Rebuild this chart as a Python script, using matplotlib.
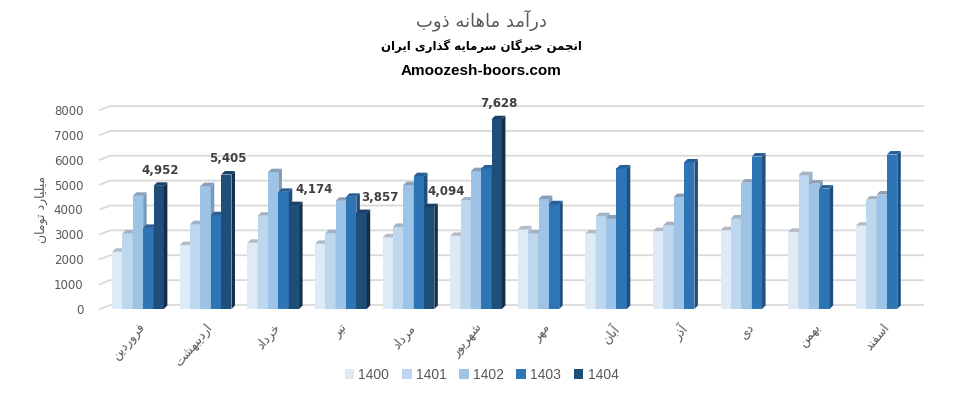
import numpy as np
import matplotlib
matplotlib.use('Agg')
import matplotlib.pyplot as plt
from matplotlib.patches import Polygon, Patch

# monthly revenue (billion toman)
months = ['فروردین', 'اردیبهشت', 'خرداد', 'تیر', 'مرداد', 'شهریور',
          'مهر', 'آبان', 'آذر', 'دی', 'بهمن', 'اسفند']
years = ['1400', '1401', '1402', '1403', '1404']
y1400 = [2300, 2570, 2660, 2620, 2880, 2940, 3200, 3040, 3130, 3170, 3100, 3350]
y1401 = [3040, 3410, 3750, 3050, 3300, 4360, 3040, 3730, 3370, 3640, 5380, 4400]
y1402 = [4550, 4940, 5500, 4350, 4980, 5540, 4420, 3640, 4500, 5080, 5040, 4600]
y1403 = [3260, 3770, 4710, 4510, 5340, 5650, 4210, 5650, 5890, 6130, 4840, 6210]
y1404 = [4952, 5405, 4174, 3857, 4094, 7628]
series = [y1400, y1401, y1402, y1403, y1404]

yticks = [0, 1000, 2000, 3000, 4000, 5000, 6000, 7000, 8000]

title1 = 'درآمد ماهانه ذوب'
title2 = 'انجمن خبرگان سرمایه گذاری ایران'
title3 = 'Amoozesh-boors.com'
ylabel = 'میلیارد تومان'

front = ['#DEEBF7', '#BDD7EE', '#9DC3E6', '#2E75B6', '#1F4E79']
side = ['#B7C4D2', '#9AB0C4', '#7B9AB8', '#1F4F7F', '#132F4C']
top = ['#B3BBC5', '#A3B3C3', '#8AA0B8', '#2A5F95', '#1A406A']
label_dx = [0, 0, 13, 12, 11, 0]  # points, to keep labels off neighbour bars

# --- tiny arabic/persian shaper (matplotlib does no shaping) ---
FORMS = {
    '\u0627': ('\uFE8D', '\uFE8E', None, None),
    '\u0622': ('\uFE81', '\uFE82', None, None),
    '\u0628': ('\uFE8F', '\uFE90', '\uFE91', '\uFE92'),
    '\u062A': ('\uFE95', '\uFE96', '\uFE97', '\uFE98'),
    '\u062C': ('\uFE9D', '\uFE9E', '\uFE9F', '\uFEA0'),
    '\u062E': ('\uFEA5', '\uFEA6', '\uFEA7', '\uFEA8'),
    '\u062F': ('\uFEA9', '\uFEAA', None, None),
    '\u0630': ('\uFEAB', '\uFEAC', None, None),
    '\u0631': ('\uFEAD', '\uFEAE', None, None),
    '\u0633': ('\uFEB1', '\uFEB2', '\uFEB3', '\uFEB4'),
    '\u0634': ('\uFEB5', '\uFEB6', '\uFEB7', '\uFEB8'),
    '\u0641': ('\uFED1', '\uFED2', '\uFED3', '\uFED4'),
    '\u0644': ('\uFEDD', '\uFEDE', '\uFEDF', '\uFEE0'),
    '\u0645': ('\uFEE1', '\uFEE2', '\uFEE3', '\uFEE4'),
    '\u0646': ('\uFEE5', '\uFEE6', '\uFEE7', '\uFEE8'),
    '\u0647': ('\uFEE9', '\uFEEA', '\uFEEB', '\uFEEC'),
    '\u0648': ('\uFEED', '\uFEEE', None, None),
    '\u06CC': ('\uFBFC', '\uFBFD', '\uFBFE', '\uFBFF'),
    '\u06AF': ('\uFB92', '\uFB93', '\uFB94', '\uFB95'),
}


def fa(s):
    out = []
    for i, c in enumerate(s):
        if c not in FORMS:
            out.append(c)
            continue
        iso, fin, ini, med = FORMS[c]
        prev = s[i - 1] if i > 0 else None
        nxt = s[i + 1] if i < len(s) - 1 else None
        jp = prev in FORMS and FORMS[prev][2] is not None
        jn = ini is not None and nxt in FORMS
        if jp and jn:
            out.append(med)
        elif jp:
            out.append(fin)
        elif jn:
            out.append(ini)
        else:
            out.append(iso)
    return ''.join(out)[::-1]


plt.rcParams['font.family'] = ['DejaVu Sans']
fig = plt.figure(figsize=(9.63, 3.95), dpi=100)
ax = fig.add_axes([100 / 963, (395 - 309) / 395, 823 / 963, (309 - 110) / 395])
ax.set_xlim(-0.562, 11.61)
ax.set_ylim(0, 8000)
for s in ax.spines.values():
    s.set_visible(False)

x = np.arange(len(months))
w = 0.153


def px_to_data(dxp, dyp):
    inv = ax.transData.inverted()
    p0 = ax.transData.transform((0, 0))
    d = inv.transform(p0 + np.array([dxp, dyp]))
    return d[0], d[1]


ddx, ddy = px_to_data(3.5, 3.5)
wdx, wdy = px_to_data(10, 4)

# back wall gridlines with a slanted foot
x0, x1 = ax.get_xlim()
for v in yticks:
    ax.plot([x0, x0 + wdx, x1], [v, v + wdy, v + wdy], color='#D9D9D9',
            lw=1.3, zorder=0, clip_on=False)

for i, vals in enumerate(series):
    xs = x[:len(vals)] + (i - 2) * w
    ax.bar(xs, vals, width=w, color=front[i], zorder=2 + i, linewidth=0)
    for xc, h in zip(xs, vals):
        l, r = xc - w / 2, xc + w / 2
        ax.add_patch(Polygon([(r, 0), (r + ddx, ddy), (r + ddx, h + ddy), (r, h)],
                             closed=True, facecolor=side[i], lw=0, zorder=2 + i))
        ax.add_patch(Polygon([(l, h), (r, h), (r + ddx, h + ddy), (l + ddx, h + ddy)],
                             closed=True, facecolor=top[i], lw=0, zorder=2 + i))

# data labels for 1404
for j, v in enumerate(y1404):
    ax.annotate(f'{v:,}', (x[j] + 2 * w + ddx / 2, v + ddy), xytext=(label_dx[j], 4),
                textcoords='offset points', ha='center', va='bottom',
                fontsize=8.5, fontweight='bold', color='#404040', zorder=10)

ax.set_yticks(yticks)
ax.set_yticklabels([str(v) for v in yticks], fontsize=8.5, color='#595959')
ax.set_xticks(x)
ax.set_xticklabels([fa(m) for m in months], rotation=50, ha='right', va='top',
                   rotation_mode='anchor', fontsize=9, color='#595959')
ax.tick_params(axis='both', length=0)
ax.tick_params(axis='x', pad=9)
ax.tick_params(axis='y', pad=12)
ax.set_ylabel(fa(ylabel), fontsize=9, color='#595959', labelpad=4)

fig.text(0.5, 1 - 20 / 395, fa(title1), ha='center', va='center', fontsize=13, color='#595959')
fig.text(0.5, 1 - 46 / 395, fa(title2), ha='center', va='center', fontsize=8.5,
         fontweight='bold', color='black')
fig.text(0.5, 1 - 71 / 395, title3, ha='center', va='center', fontsize=11,
         fontweight='bold', color='black', family='Liberation Sans')

handles = [Patch(facecolor=c, edgecolor='none') for c in front]
leg = fig.legend(handles, years, loc='center', bbox_to_anchor=(0.5, 1 - 375 / 395), ncol=5,
                 frameon=False, handlelength=0.7, handleheight=0.7, handletextpad=0.3,
                 columnspacing=0.9, prop={'family': 'Liberation Sans', 'size': 10})
for t in leg.get_texts():
    t.set_color('#595959')

fig.savefig('out.png', dpi=100)
